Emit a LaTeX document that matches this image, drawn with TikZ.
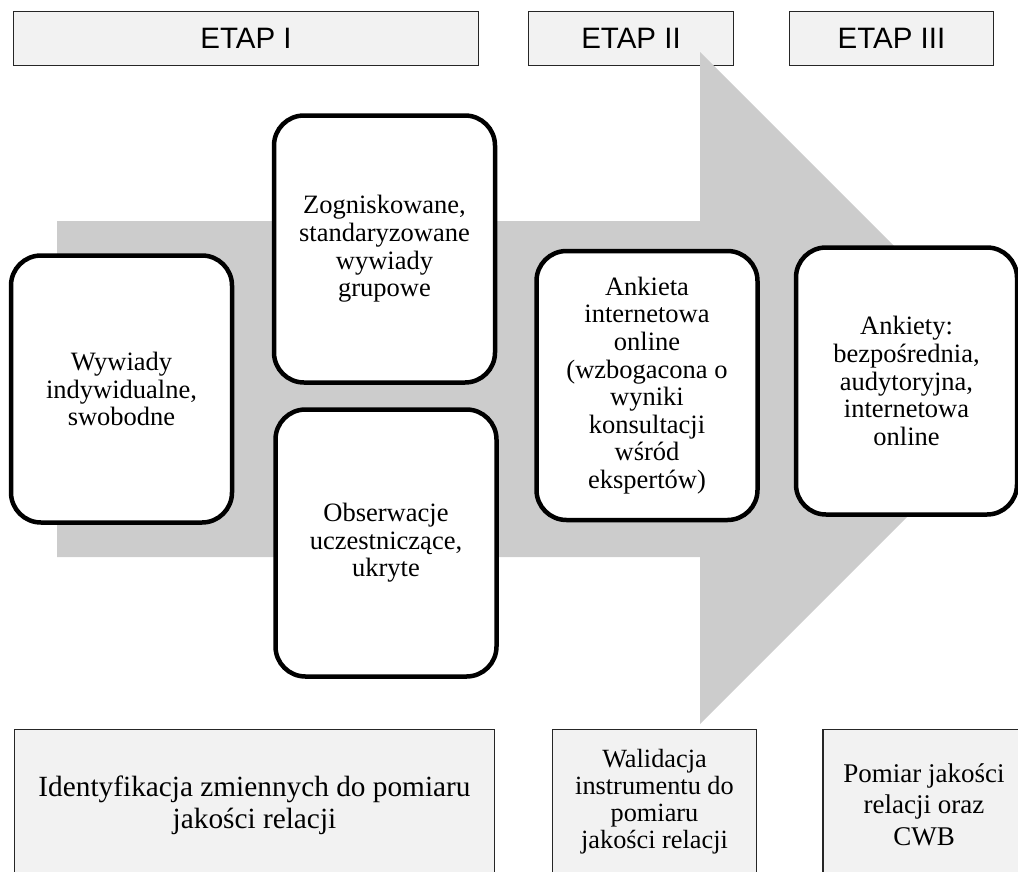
\documentclass[tikz,border=0pt]{standalone}
\usepackage{fontspec}
\setmainfont{Liberation Serif}
\newfontfamily\headfont{Liberation Sans}
\usepackage{xcolor}
\usepackage{tikz}

\begin{document}
\begin{tikzpicture}[
    x=1pt, y=-1pt,
    stage box/.style={draw=black!85, line width=1.3pt, fill=black!5, minimum height=54pt,
        inner sep=0pt, font=\headfont\fontsize{29.5}{33}\selectfont},
    method box/.style={draw=black, line width=4.5pt, fill=white, rounded corners=30pt,
        minimum width=221pt, minimum height=267pt, align=center, inner sep=0pt,
        font=\fontsize{26.5}{27.6}\selectfont},
    result box/.style={draw=black!85, line width=1.3pt, fill=black!5, anchor=north,
        align=center, inner sep=0pt}
]

\useasboundingbox (0,0) rectangle (1018,871);
\clip (0,0) rectangle (1018,871);

% --- 1. Stage headers ---
\node[stage box, minimum width=465pt] (etapI)   at (246,38.5)   {ETAP I};
\node[stage box, minimum width=205pt] (etapII)  at (631,38.5)   {ETAP II};
\node[stage box, minimum width=204pt] (etapIII) at (891.5,38.5) {ETAP III};

% --- 2. Big arrow (drawn over the headers) ---
\fill[black!20] (57,221) -- (700,221) -- (700,52) -- (1036,388)
    -- (700,724) -- (700,557) -- (57,557) -- cycle;

% --- 3. Methods ---
\node[method box] (wywiady) at (121.5,389) {Wywiady\\indywidualne,\\swobodne};
\node[method box] (zogn)    at (384.5,249) {Zogniskowane,\\standaryzowane\\wywiady\\grupowe};
\node[method box] (obserw)  at (386,543)   {Obserwacje\\uczestniczące,\\ukryte};
\node[method box, minimum height=269pt] (ankieta) at (647,385.5)
    {Ankieta\\internetowa\\online\\(wzbogacona o\\wyniki\\konsultacji\\wśród\\ekspertów)};
\node[method box] (ankiety) at (906.5,381) {Ankiety:\\bezpośrednia,\\audytoryjna,\\internetowa\\online};

% --- 4. Results (cut by the page edge) ---
\node[result box, minimum width=480pt, minimum height=152pt, font=\fontsize{29.3}{32}\selectfont]
    (ident) at (254.5,729) {Identyfikacja zmiennych do pomiaru\\jakości relacji};
\node[result box, minimum width=204pt, minimum height=144pt, font=\fontsize{26.3}{27.3}\selectfont]
    (walid) at (654.5,729) {Walidacja\\instrumentu do\\pomiaru\\jakości relacji};
\node[result box, minimum width=202pt, minimum height=150pt, font=\fontsize{27}{31.5}\selectfont]
    (pomiar) at (924,729) {Pomiar jakości\\relacji oraz\\CWB};

\end{tikzpicture}
\end{document}
